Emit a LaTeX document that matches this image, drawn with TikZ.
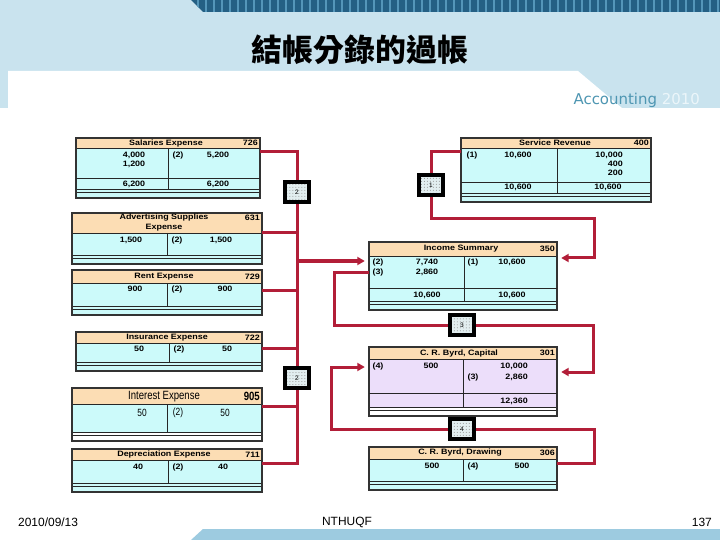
\documentclass[tikz,border=0pt]{standalone}
\usepackage{fontspec}
\setmainfont{Liberation Sans}
\newfontfamily\cjk{Noto Sans CJK TC}
\newfontfamily\verd{DejaVu Sans}
\newfontfamily\narrowfont{Liberation Sans}[FakeStretch=0.8]
\newfontfamily\widefont{Liberation Sans}[FakeStretch=1.15]
\usetikzlibrary{arrows.meta, patterns, fit}
\definecolor{skyband}{RGB}{201,227,238}
\definecolor{stripedark}{RGB}{36,96,132}
\definecolor{stripelight}{RGB}{84,150,185}
\definecolor{footband}{RGB}{157,203,224}
\definecolor{brandteal}{RGB}{78,150,178}
\definecolor{brandwhite}{RGB}{236,246,250}
\definecolor{hdrbeige}{RGB}{252,221,180}
\definecolor{bodycyan}{RGB}{204,250,250}
\definecolor{bodylilac}{RGB}{236,222,250}
\definecolor{linkred}{RGB}{178,30,56}
\definecolor{markfill}{RGB}{226,238,240}

\newcommand{\acctfont}{\widefont\fontsize{7.8}{8}\selectfont\bfseries}

% T account: [band] name, left, top, right, header bottom, rule, divider, body colour
\newcommand{\taccount}[9][]{%
  \fill[#9] (#3,#4) rectangle (#5,#7+9);
  \fill[#9,#1] (#3,#7) rectangle (#5,#7+9);
  \fill[hdrbeige] (#3,#4) rectangle (#5,#6);
  \draw[acctline] (#3,#6) -- (#5,#6);
  \draw[acctline] (#8,#6) -- (#8,#7);
  \draw[acctline] (#3,#7) -- (#5,#7) (#3,#7+3) -- (#5,#7+3);
  \draw[acctframe] (#3,#4) rectangle (#5,#7+9);
  \node[fit={(#3,#4) (#5,#7+9)}, inner sep=0pt] (#2) {};
}

\tikzset{
  link/.style={draw=linkred, line width=3bp},
  linkarrow/.style={link, -{Triangle[length=7.5bp,width=8bp]}, shorten >=4bp},
  marker/.style={draw=black, line width=3.2bp, minimum width=24bp, minimum height=20bp,
    inner sep=0pt, font=\fontsize{6.5}{7}\selectfont,
    preaction={fill=markfill}, pattern=dots, pattern color=black!45},
  acctframe/.style={draw=black!80, line width=1.5bp},
  acctline/.style={draw=black!85, line width=0.9bp},
  ttl/.style={font=\acctfont, inner sep=0pt},
  amt/.style={font=\acctfont, inner sep=0pt},
  nar/.style={font=\narrowfont\fontsize{10.5}{11}\selectfont, inner sep=0pt},
  foot/.style={font=\fontsize{12}{13}\selectfont, inner sep=0pt}
}

\begin{document}
\begin{tikzpicture}[x=1bp, y=-1bp]
\useasboundingbox (0,0) rectangle (720,540);

% slide background
\fill[white] (0,0) rectangle (720,540);
\fill[skyband] (0,0) rectangle (720,108);
\fill[white] (8,71) -- (578,71) -- (622,108) -- (8,108) -- cycle;
\fill[stripedark] (191,0) -- (720,0) -- (720,12) -- (203,12) -- cycle;
\begin{scope}
  \clip (191,0) -- (720,0) -- (720,12) -- (203,12) -- cycle;
  \foreach \x in {190,198,...,720}
    \draw[stripelight, line width=2.5bp] (\x,0) -- (\x,12);
\end{scope}
\fill[footband] (191,540) -- (203,529) -- (720,529) -- (720,540) -- cycle;

\node[font={\fontsize{31}{33}\cjk\bfseries}] (title) at (360,50) {結帳分錄的過帳};
\node[anchor=east, inner sep=0pt, font={\fontsize{15}{16}\verd}] (brand) at (700,100)
  {\textcolor{brandteal}{Accounting} \textcolor{brandwhite}{2010}};

% Salaries Expense
\taccount{sal}{76}{138}{260}{148}{189}{168}{bodycyan}
\draw[acctline] (76,178) -- (260,178);
\node[ttl] (sal-t) at (166,143) {Salaries Expense};
\node[ttl, anchor=east] (sal-no) at (258,143) {726};
\node[amt] (sal-d1) at (134,155) {4,000};
\node[amt] (sal-d2) at (134,164) {1,200};
\node[amt] (sal-k) at (178,155) {(2)};
\node[amt] (sal-c1) at (218,155) {5,200};
\node[amt] (sal-dt) at (134,184) {6,200};
\node[amt] (sal-ct) at (218,184) {6,200};

% Service Revenue
\taccount{sr}{461}{138}{651}{148}{193}{557}{bodycyan}
\draw[acctline] (461,182) -- (651,182);
\node[ttl] (sr-t) at (555,143) {Service Revenue};
\node[ttl, anchor=east] (sr-no) at (649,143) {400};
\node[amt] (sr-k) at (472,155) {(1)};
\node[amt] (sr-d1) at (518,155) {10,600};
\node[amt, anchor=east] (sr-c1) at (623,155) {10,000};
\node[amt, anchor=east] (sr-c2) at (623,164) {400};
\node[amt, anchor=east] (sr-c3) at (623,173) {200};
\node[amt] (sr-dt) at (518,187) {10,600};
\node[amt] (sr-ct) at (608,187) {10,600};

% Advertising Supplies Expense
\taccount{adv}{72}{213}{262}{233}{255}{167}{bodycyan}
\node[ttl] (adv-t) at (164,218) {Advertising Supplies};
\node[ttl] (adv-t2) at (164,227.5) {Expense};
\node[ttl, anchor=east] (adv-no) at (260,218) {631};
\node[amt] (adv-d) at (131,240) {1,500};
\node[amt] (adv-k) at (177,240) {(2)};
\node[amt] (adv-c) at (221,240) {1,500};

% Rent Expense
\taccount{rent}{72}{270}{262}{283}{306}{167}{bodycyan}
\node[ttl] (rent-t) at (164,276.5) {Rent Expense};
\node[ttl, anchor=east] (rent-no) at (260,276.5) {729};
\node[amt] (rent-d) at (135,289) {900};
\node[amt] (rent-k) at (177,289) {(2)};
\node[amt] (rent-c) at (225,289) {900};

% Insurance Expense
\taccount{ins}{76}{332}{262}{343}{362}{169}{bodycyan}
\node[ttl] (ins-t) at (167,337.5) {Insurance Expense};
\node[ttl, anchor=east] (ins-no) at (260,337.5) {722};
\node[amt] (ins-d) at (139,349) {50};
\node[amt] (ins-k) at (179,349) {(2)};
\node[amt] (ins-c) at (227,349) {50};

% Interest Expense
\taccount[white]{int}{72}{388}{262}{404}{432}{167}{bodycyan}
\node[nar, font={\narrowfont\fontsize{12}{12}\selectfont}] (int-t) at (164,396.5) {Interest Expense};
\node[nar, font={\narrowfont\fontsize{12}{12}\selectfont\bfseries}, anchor=east] (int-no) at (260,396.5) {905};
\node[nar] (int-d) at (142,413) {50};
\node[nar] (int-k) at (178,413) {(2)};
\node[nar] (int-c) at (225,413) {50};

% Depreciation Expense
\taccount{dep}{72}{449}{262}{460}{483}{168}{bodycyan}
\node[ttl] (dep-t) at (164,454.5) {Depreciation Expense};
\node[ttl, anchor=east] (dep-no) at (260,454.5) {711};
\node[amt] (dep-d) at (138,467) {40};
\node[amt] (dep-k) at (178,467) {(2)};
\node[amt] (dep-c) at (223,467) {40};

% Income Summary
\taccount{is}{369}{242}{557}{256}{301}{464}{bodycyan}
\draw[acctline] (369,288) -- (557,288);
\node[ttl] (is-t) at (461,249) {Income Summary};
\node[ttl, anchor=east] (is-no) at (555,249) {350};
\node[amt] (is-k2) at (378,262) {(2)};
\node[amt] (is-d1) at (427,262) {7,740};
\node[amt] (is-k3) at (378,272) {(3)};
\node[amt] (is-d2) at (427,272) {2,860};
\node[amt] (is-k1) at (473,262) {(1)};
\node[amt] (is-c1) at (512,262) {10,600};
\node[amt] (is-dt) at (427,295) {10,600};
\node[amt] (is-ct) at (512,295) {10,600};

% C. R. Byrd, Capital
\taccount[white]{cap}{369}{347}{557}{359}{407}{463}{bodylilac}
\draw[acctline] (369,393) -- (557,393);
\node[ttl] (cap-t) at (459,353) {C. R. Byrd, Capital};
\node[ttl, anchor=east] (cap-no) at (555,353) {301};
\node[amt] (cap-k4) at (378,366) {(4)};
\node[amt] (cap-d) at (431,366) {500};
\node[amt, anchor=east] (cap-c1) at (528,366) {10,000};
\node[amt] (cap-k3) at (473,377) {(3)};
\node[amt, anchor=east] (cap-c2) at (528,377) {2,860};
\node[amt, anchor=east] (cap-ct) at (528,401) {12,360};

% C. R. Byrd, Drawing
\taccount{drw}{369}{447}{557}{459}{481}{463}{bodycyan}
\node[ttl] (drw-t) at (460,453) {C. R. Byrd, Drawing};
\node[ttl, anchor=east] (drw-no) at (555,453) {306};
\node[amt] (drw-d) at (432,466) {500};
\node[amt] (drw-k) at (473,466) {(4)};
\node[amt] (drw-c) at (522,466) {500};

% entry (2): expenses into Income Summary
\coordinate (bus-top) at (297,152);
\coordinate (bus-bot) at (297,463);
\draw[link] (sal.east |- bus-top) -- (bus-top) -- (bus-bot) -- (dep.east |- bus-bot);
\draw[link] (adv.east |- 0,233) -- (bus-top |- 0,233);
\draw[link] (rent.east |- 0,290) -- (bus-top |- 0,290);
\draw[link] (ins.east |- 0,348) -- (bus-top |- 0,348);
\draw[link] (int.east |- 0,406) -- (bus-top |- 0,406);
\draw[linkarrow] (bus-top |- 0,261) -- (is.west |- 0,261);

% entry (1): revenue into Income Summary
\coordinate (p1) at (431,185);
\coordinate (c1) at (594,219);
\draw[linkarrow] (sr.west |- 0,152) -| (p1) |- (c1) |- (is.east |- 0,258);

% entry (3): Income Summary into Capital
\coordinate (c3a) at (334,325);
\coordinate (p3) at (462,325);
\coordinate (c3b) at (593,325);
\draw[linkarrow] (is.west |- 0,272) -| (c3a) -- (c3b) |- (cap.east |- 0,372);

% entry (4): Drawing into Capital
\coordinate (c4a) at (594,429);
\coordinate (p4) at (462,429);
\coordinate (c4b) at (331,429);
\draw[linkarrow] (drw.east |- 0,463) -| (c4a) -- (c4b) |- (cap.west |- 0,367);

% entry markers
\node[marker] (m2a) at (297,192) {2};
\node[marker] (m2b) at (297,378) {2};
\node[marker] (m1) at (p1) {1};
\node[marker] (m3) at (p3) {3};
\node[marker] (m4) at (p4) {4};

% footer
\node[foot, anchor=west] (date) at (18,522) {2010/09/13};
\node[foot] (org) at (347,522) {NTHUQF};
\node[foot, anchor=east] (page) at (712,522) {137};
\end{tikzpicture}
\end{document}
